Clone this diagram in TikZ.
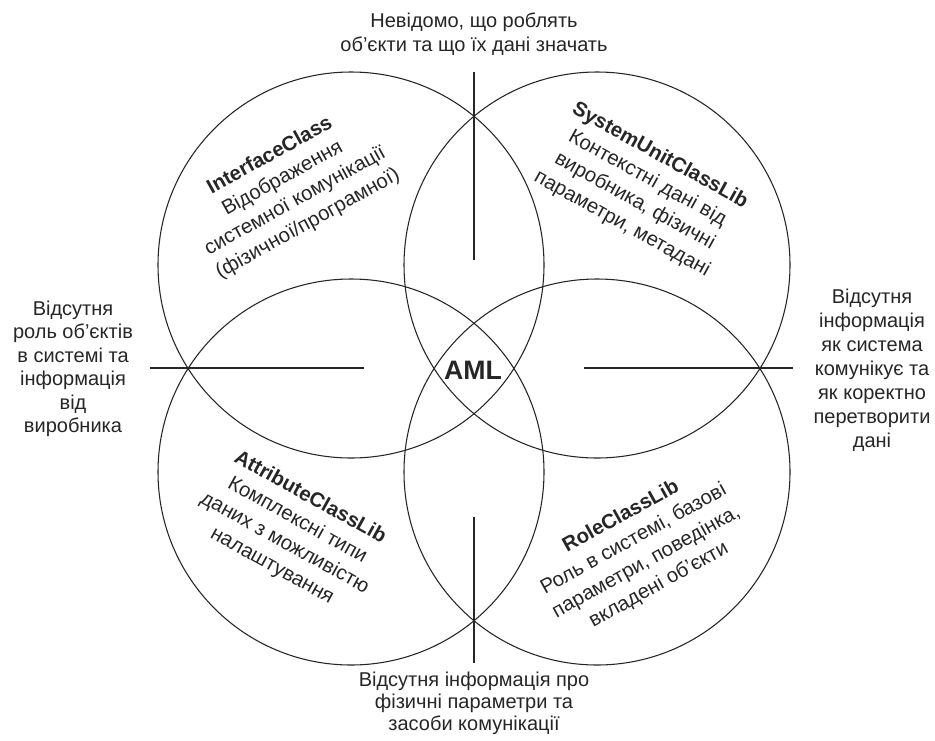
\documentclass[tikz,border=0pt]{standalone}
\usepackage{fontspec}
\setmainfont{Liberation Sans}
\begin{document}
\begin{tikzpicture}[x=0.75pt,y=-0.75pt,
  ring/.style={draw=black!85,line width=0.8pt,circle,minimum size=386*0.75pt,inner sep=0pt},
  sep/.style={draw=black!85,line width=0.8pt},
  txt/.style={text=black!85,align=center,font=\fontsize{15}{17.6}\selectfont,inner sep=0pt},
  lbl/.style={text=black!85,align=center,font=\fontsize{15.3}{19.5}\selectfont,inner sep=0pt}
]
\useasboundingbox (0,0) rectangle (935,740);
\fill[white] (0,0) rectangle (935,740);
% circles
\node[ring] (tl) at (351,265) {};
\node[ring] (tr) at (597,265) {};
\node[ring] (bl) at (351,472) {};
\node[ring] (br) at (597,472) {};
% separators
\coordinate (vt1) at (474,72);
\coordinate (vt2) at (474,260);
\coordinate (vb1) at (474,517);
\coordinate (vb2) at (474,663);
\coordinate (hl1) at (150,368);
\coordinate (hl2) at (364,368);
\coordinate (hr1) at (584,368);
\coordinate (hr2) at (793,368);
\draw[sep] (vt1) -- (vt2);
\draw[sep] (vb1) -- (vb2);
\draw[sep] (hl1) -- (hl2);
\draw[sep] (hr1) -- (hr2);
% center
\node[txt,font=\fontsize{20}{22}\selectfont\bfseries] (aml) at (473,370) {AML};
% outer texts
\node[txt,font=\fontsize{15}{18.5}\selectfont] (top) at (474,34) {Невідомо, що роблять\\об'єкти та що їх дані значать};
\node[txt] (left) at (73,369) {Відсутня\\роль об'єктів\\в системі та\\інформація\\від\\виробника};
\node[txt,font=\fontsize{15}{18}\selectfont] (right) at (872,370) {Відсутня\\інформація\\як система\\комунікує та\\як коректно\\перетворити\\дані};
\node[txt,font=\fontsize{15}{16.5}\selectfont] (bottom) at (474,703) {Відсутня інформація про\\фізичні параметри та\\засоби комунікації};
% rotated blocks
\node[lbl,rotate=29] (ic) at (289,190) {\textbf{InterfaceClass}\\Відображення\\системної комунікації\\(фізичної/програмної)};
\node[lbl,rotate=-29] (su) at (641,190) {\textbf{SystemUnitClassLib}\\Контекстні дані від\\виробника, фізичні\\параметри, метадані};
\node[lbl,rotate=-29] (ac) at (291,532) {\textbf{AttributeClassLib}\\Комплексні типи\\даних з можливістю\\налаштування};
\node[lbl,rotate=29] (rc) at (640,551) {\textbf{RoleClassLib}\\Роль в системі, базові\\параметри, поведінка,\\вкладені об'єкти};
\end{tikzpicture}
\end{document}
